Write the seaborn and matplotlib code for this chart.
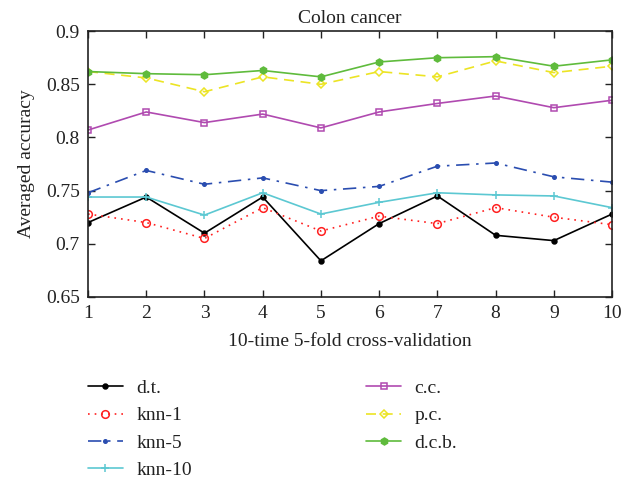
import matplotlib
matplotlib.use("Agg")
import matplotlib.pyplot as plt
import seaborn as sns
import pandas as pd

folds = [1, 2, 3, 4, 5, 6, 7, 8, 9, 10]
dt = [0.720, 0.744, 0.710, 0.744, 0.684, 0.719, 0.745, 0.708, 0.703, 0.728]
knn1 = [0.728, 0.720, 0.705, 0.734, 0.712, 0.726, 0.719, 0.734, 0.725, 0.718]
knn5 = [0.748, 0.769, 0.756, 0.762, 0.750, 0.754, 0.773, 0.776, 0.763, 0.758]
knn10 = [0.744, 0.744, 0.727, 0.748, 0.728, 0.739, 0.748, 0.746, 0.745, 0.734]
cc = [0.807, 0.824, 0.814, 0.822, 0.809, 0.824, 0.832, 0.839, 0.828, 0.835]
pc = [0.862, 0.856, 0.843, 0.857, 0.850, 0.862, 0.857, 0.872, 0.861, 0.867]
dcb = [0.862, 0.860, 0.859, 0.863, 0.857, 0.871, 0.875, 0.876, 0.867, 0.873]
labels = ["d.t.", "knn-1", "knn-5", "knn-10", "c.c.", "p.c.", "d.c.b."]
yticks = [0.65, 0.7, 0.75, 0.8, 0.85, 0.9]
ytick_labels = ["0.65", "0.7", "0.75", "0.8", "0.85", "0.9"]

sns.set_theme(style="ticks")
plt.rcParams['font.family'] = ['Liberation Serif', 'DejaVu Serif']

series = [dt, knn1, knn5, knn10, cc, pc, dcb]
rows = []
for lab, vals in zip(labels, series):
    for f, v in zip(folds, vals):
        rows.append({"fold": f, "acc": v, "method": lab})
df = pd.DataFrame(rows)

styles = {
    "d.t.": dict(color="black", ls="-", marker="o", ms=3.5, mfc="black"),
    "knn-1": dict(color="#ff2020", ls=(0, (1, 3)), marker="o", ms=5.5, mfc="none"),
    "knn-5": dict(color="#2a4db0", ls=(0, (8, 4, 1.5, 4)), marker="o", ms=2.5, mfc="#2a4db0"),
    "knn-10": dict(color="#5cc8d2", ls="-", marker="+", ms=6, mfc="none"),
    "c.c.": dict(color="#b04ab0", ls="-", marker="s", ms=4.5, mfc="none"),
    "p.c.": dict(color="#ece424", ls=(0, (6, 4)), marker="D", ms=4.5, mfc="none"),
    "d.c.b.": dict(color="#5fbb3c", ls="-", marker="h", ms=5, mfc="#5fbb3c"),
}

fig = plt.figure(figsize=(6.22, 4.79), dpi=100)
ax = fig.add_axes([0.1415, 0.380, 0.8425, 0.555])
for lab in labels:
    st = styles[lab]
    sub = df[df["method"] == lab]
    sns.lineplot(data=sub, x="fold", y="acc", ax=ax, color=st["color"],
                 linestyle=st["ls"], linewidth=1.2, marker=st["marker"],
                 markersize=st["ms"], markerfacecolor=st["mfc"],
                 markeredgecolor=st["color"], markeredgewidth=1.1,
                 label=lab, legend=False)

ax.set_xlim(1, 10)
ax.set_ylim(0.65, 0.9)
ax.set_xticks(folds)
ax.set_xticklabels([str(f) for f in folds])
ax.set_yticks(yticks)
ax.set_yticklabels(ytick_labels)
ax.tick_params(direction="in", top=True, right=True, length=5, width=1,
               labelsize=14, colors="#222222", pad=6)
for s in ax.spines.values():
    s.set_linewidth(1.2)
    s.set_color("#222222")
ax.set_title("Colon cancer", fontsize=14, pad=6, color="#222222")
ax.set_xlabel("10-time 5-fold cross-validation", fontsize=14, labelpad=8, color="#222222")
ax.set_ylabel("Averaged accuracy", fontsize=14, labelpad=8, color="#222222")

handles, labs = ax.get_legend_handles_labels()
leg = fig.legend(handles, labs,
                 loc="upper left", bbox_to_anchor=(0.113, 0.244), ncol=2,
                 frameon=False, fontsize=14, handlelength=1.8,
                 columnspacing=8.95, labelspacing=0.49, handletextpad=0.7)
for t in leg.get_texts():
    t.set_color("#222222")

fig.savefig("out.png", dpi=100)
